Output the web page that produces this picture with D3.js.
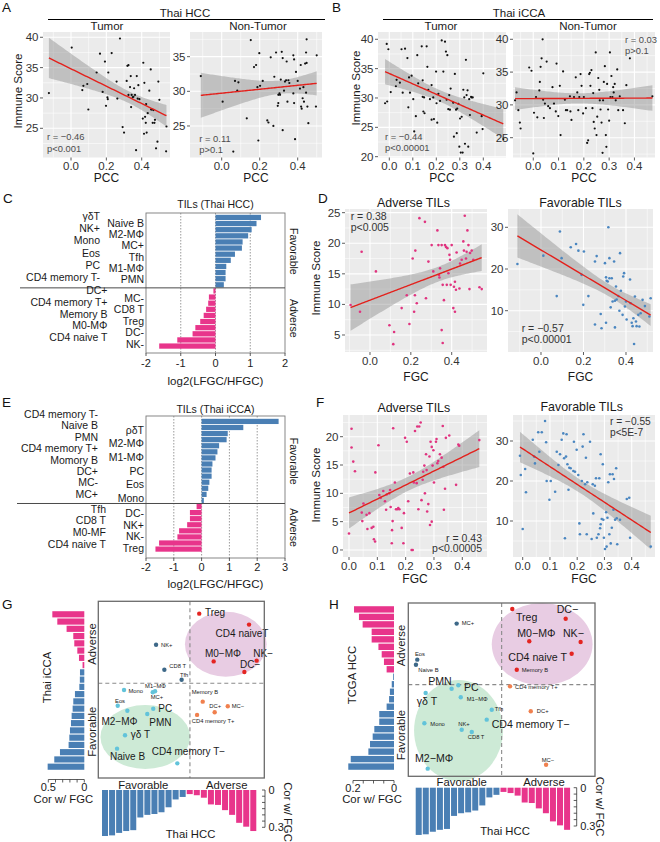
<!DOCTYPE html>
<html>
<head>
<meta charset="utf-8">
<script src="https://cdn.jsdelivr.net/npm/d3@7"></script>
<style>html,body{margin:0;padding:0;background:#fff;}</style>
</head>
<body>
<script>
// ======================= DATA =======================
// Panel A: Thai HCC, PCC vs Immune Score  [PCC, score]
const aTumor = [[-0.125,30.8],[0.004,38.3],[0.064,31.3],[0.07,32.0],[0.092,32.3],[0.098,28.1],[0.145,34.2],[0.164,37.3],[0.179,31.0],[0.192,36.0],[0.198,28.7],[0.206,30.1],[0.208,29.8],[0.211,34.2],[0.23,37.4],[0.258,32.7],[0.262,29.9],[0.277,39.8],[0.292,25.2],[0.3,24.3],[0.315,32.8],[0.319,35.3],[0.325,35.4],[0.325,30.5],[0.334,31.8],[0.338,33.6],[0.34,28.5],[0.343,30.5],[0.349,30.1],[0.353,30.2],[0.357,31.6],[0.362,30.5],[0.368,21.4],[0.372,33.6],[0.377,29.9],[0.381,32.1],[0.387,29.8],[0.409,35.8],[0.413,24.1],[0.415,32.5],[0.419,26.9],[0.423,25.9],[0.425,29.0],[0.428,24.3],[0.443,31.2],[0.451,34.7],[0.453,28.1],[0.457,28.1],[0.462,25.9],[0.466,28.0],[0.472,25.9],[0.475,26.4],[0.481,21.7],[0.489,22.8],[0.494,32.7],[0.5,29.7],[0.54,25.3],[0.538,21.2],[0.434,27.5],[0.406,26.6]];
const aNonTumor = [[-0.11,32.2],[0.005,28.5],[0.061,21.3],[0.07,31.5],[0.082,30.1],[0.088,31.3],[0.132,26.1],[0.153,37.4],[0.17,33.5],[0.181,33.8],[0.188,30.6],[0.193,22.9],[0.198,35.5],[0.202,30.8],[0.216,31.5],[0.24,25.8],[0.246,25.5],[0.258,34.9],[0.272,25.0],[0.277,32.1],[0.286,35.6],[0.295,27.9],[0.298,28.3],[0.298,29.5],[0.304,29.7],[0.307,29.5],[0.311,31.7],[0.316,35.7],[0.321,34.8],[0.321,24.4],[0.328,30.1],[0.333,31.4],[0.339,31.6],[0.342,34.3],[0.346,28.5],[0.351,31.6],[0.356,31.2],[0.377,35.2],[0.381,34.6],[0.381,28.3],[0.386,23.1],[0.391,32.8],[0.4,31.5],[0.412,30.4],[0.416,33.8],[0.418,27.8],[0.421,27.5],[0.426,29.0],[0.43,30.6],[0.433,28.5],[0.439,34.0],[0.444,35.6],[0.447,37.5],[0.447,34.1],[0.451,27.8],[0.456,25.4],[0.496,27.8],[0.5,35.2],[0.444,29.8],[0.377,29.7]];
// Panel B: Thai iCCA
const bTumor = [[-0.018,29.1],[-0.011,39.2],[-0.004,38.3],[-0.009,29.4],[0.006,31.0],[0.028,32.0],[0.031,33.1],[0.045,32.6],[0.052,38.3],[0.057,30.9],[0.067,38.4],[0.077,36.8],[0.081,28.4],[0.084,33.5],[0.088,30.9],[0.095,33.8],[0.102,29.8],[0.106,24.3],[0.113,26.9],[0.119,37.3],[0.123,32.5],[0.138,38.8],[0.142,33.0],[0.142,30.2],[0.145,27.7],[0.148,30.1],[0.15,27.4],[0.159,38.8],[0.162,35.3],[0.166,31.4],[0.173,29.8],[0.18,32.2],[0.18,26.3],[0.187,30.1],[0.19,26.4],[0.199,34.5],[0.201,29.1],[0.204,25.8],[0.209,30.7],[0.216,29.5],[0.223,39.8],[0.23,34.5],[0.237,39.6],[0.241,37.9],[0.244,29.7],[0.247,37.3],[0.251,28.1],[0.255,30.5],[0.258,28.0],[0.261,31.6],[0.272,29.2],[0.275,23.4],[0.279,34.1],[0.284,28.0],[0.287,24.0],[0.289,28.2],[0.294,29.0],[0.298,21.7],[0.301,26.5],[0.304,20.7],[0.308,26.8],[0.312,20.7],[0.315,31.4],[0.319,30.1],[0.322,22.2],[0.326,36.5],[0.329,30.5],[0.333,31.3],[0.336,21.7],[0.34,29.8],[0.343,27.1],[0.348,30.2],[0.35,30.1],[0.355,30.1],[0.372,24.1],[0.393,26.9],[0.397,24.7],[0.4,34.2],[0.485,23.0]];
const bNonTumor = [[-0.072,30.7],[-0.066,31.9],[-0.059,29.2],[-0.053,27.3],[-0.05,26.4],[-0.016,35.7],[-0.007,35.2],[0,22.6],[0.003,28.8],[0.011,31.2],[0.016,28.1],[0.024,32.2],[0.026,33.5],[0.029,35.8],[0.033,37.1],[0.037,40.0],[0.039,30.8],[0.042,28.0],[0.046,30.2],[0.053,36.6],[0.059,29.8],[0.066,29.5],[0.076,32.7],[0.082,30.2],[0.089,29.0],[0.092,36.3],[0.099,28.3],[0.105,32.9],[0.108,25.4],[0.118,35.1],[0.125,30.8],[0.129,29.2],[0.134,29.2],[0.145,31.3],[0.147,29.0],[0.151,27.7],[0.161,31.2],[0.168,34.2],[0.174,31.9],[0.178,29.2],[0.182,31.2],[0.187,34.7],[0.191,32.9],[0.197,28.7],[0.2,31.2],[0.208,29.5],[0.213,24.2],[0.217,24.6],[0.221,34.7],[0.224,34.9],[0.226,32.9],[0.23,35.3],[0.234,29.5],[0.237,31.8],[0.239,27.4],[0.243,26.4],[0.247,38.0],[0.25,25.4],[0.253,28.2],[0.257,34.1],[0.261,32.3],[0.263,30.7],[0.266,29.3],[0.27,27.3],[0.274,22.7],[0.276,30.7],[0.279,33.5],[0.283,35.9],[0.287,25.4],[0.289,23.6],[0.292,33.2],[0.296,29.3],[0.3,27.6],[0.303,38.0],[0.305,31.2],[0.309,34.4],[0.313,31.2],[0.316,32.7],[0.318,31.9],[0.322,33.2],[0.326,30.7],[0.332,35.4],[0.336,29.2],[0.342,31.3],[0.355,29.2],[0.362,27.2],[0.368,33.0],[0.382,37.1],[0.471,31.3]];
const aStats = [["r = \u22120.46","p<0.001"],["r = 0.11","p>0.1"]];
const bStats = [["r = \u22120.44","p<0.00001"],["r = 0.03","p>0.1"]];

// Panel C: TILs (Thai HCC) log2(LFGC/HFGC)
const cFavValues = [1.31,1.18,1.04,0.94,0.78,0.76,0.56,0.44,0.31,0.29,0.29,0.24];
const cAdvValues = [-0.06,-0.19,-0.21,-0.27,-0.34,-0.44,-0.58,-0.66,-1.1,-1.62];
const cFavLeft = ["\u03b3\u03b4T","NK+","Mono","Eos","PC","CD4 memory T-"];
const cFavRight = ["Naive B","M2-M\u03a6","MC+","Tfh","M1-M\u03a6","PMN"];
const cAdvLeft = ["DC+","CD4 memory T+","Memory B","M0-M\u03a6","CD4 naive T"];
const cAdvRight = ["MC-","CD8 T","Treg","DC-","NK-"];
const cTicks = [-2,-1,0,1,2];
// Panel E: TILs (Thai iCCA)
const eFavValues = [2.77,1.5,0.94,0.9,0.63,0.57,0.5,0.39,0.36,0.36,0.28,0.24,0.18,0.08];
const eAdvValues = [-0.18,-0.42,-0.42,-0.52,-0.81,-0.87,-1.53,-1.66];
const eFavLeft = ["CD4 memory T-","Naive B","PMN","CD4 memory T+","Momory B","DC+","MC-","MC+"];
const eFavRight = ["\u03c1\u03b4T","M2-M\u03a6","M1-M\u03a6","PC","Eos","Mono"];
const eAdvLeft = ["Tfh","CD8 T","M0-MF","CD4 naive T"];
const eAdvRight = ["DC-","NK+","NK-","Treg"];
const eTicks = [-2,-1,0,1,2,3];

// Panel D: Thai HCC, FGC vs Immune Score (adverse / favorable TILs)
const dAdverse = [[-0.095,9.9],[-0.049,8.8],[-0.041,18.6],[0.029,15.4],[0.095,6.6],[0.114,3.5],[0.118,5.5],[0.155,9.4],[0.18,11.5],[0.193,6.8],[0.209,17.5],[0.216,8.8],[0.22,11.5],[0.222,18.8],[0.229,10.2],[0.242,24.1],[0.269,23.5],[0.274,11.0],[0.286,17.0],[0.302,19.7],[0.31,15.4],[0.33,22.1],[0.335,19.7],[0.338,14.8],[0.34,14.4],[0.343,15.9],[0.351,19.7],[0.351,5.8],[0.356,13.2],[0.356,3.7],[0.362,10.7],[0.367,19.7],[0.372,19.4],[0.376,13.2],[0.379,19.2],[0.384,15.1],[0.389,18.1],[0.392,17.3],[0.395,13.2],[0.4,19.7],[0.408,9.4],[0.411,12.9],[0.416,13.7],[0.416,8.8],[0.421,12.4],[0.424,18.5],[0.438,12.6],[0.441,16.7],[0.449,17.3],[0.457,20.3],[0.46,18.8],[0.464,24.5],[0.47,17.5],[0.473,18.6],[0.477,22.1],[0.482,19.7],[0.487,12.5],[0.49,18.4],[0.498,18.8],[0.506,17.3],[0.536,12.8],[0.547,12.5]];
const dFavorable = [[-0.111,21.2],[0.011,23.2],[0.074,13.5],[0.089,29.0],[0.097,22.6],[0.14,25.2],[0.165,26.0],[0.176,24.4],[0.191,18.6],[0.199,11.4],[0.202,24.2],[0.223,13.5],[0.254,21.8],[0.254,6.7],[0.262,23.1],[0.281,9.2],[0.285,5.8],[0.301,21.4],[0.306,18.0],[0.306,7.1],[0.309,17.2],[0.314,17.0],[0.317,30.0],[0.322,22.6],[0.322,17.8],[0.328,10.8],[0.333,17.8],[0.337,12.2],[0.344,21.8],[0.348,12.4],[0.348,6.0],[0.353,15.8],[0.356,12.7],[0.364,13.5],[0.369,10.0],[0.372,23.8],[0.376,14.8],[0.384,9.0],[0.387,18.2],[0.391,19.0],[0.395,11.0],[0.4,12.2],[0.403,7.9],[0.419,17.5],[0.422,11.8],[0.427,7.1],[0.431,6.3],[0.435,8.2],[0.438,2.0],[0.442,13.4],[0.447,7.4],[0.45,6.3],[0.458,9.0],[0.463,6.2],[0.469,9.4],[0.478,12.6],[0.489,11.1],[0.51,8.6],[0.516,13.0]];
// Panel F: Thai iCCA
const fAdverse = [[0,2.9],[0.009,21.4],[0.009,18.1],[0.015,15.6],[0.021,13.9],[0.045,6.6],[0.047,5.1],[0.051,8.2],[0.062,6.2],[0.065,3.7],[0.072,6.5],[0.08,3.9],[0.086,4.1],[0.088,1.9],[0.092,1.5],[0.093,13.7],[0.104,18.5],[0.107,9.7],[0.112,9.2],[0.121,10.4],[0.127,8.6],[0.131,7.1],[0.133,9.8],[0.142,10.0],[0.145,10.6],[0.147,7.6],[0.151,1.2],[0.152,3.5],[0.154,5.1],[0.156,21.5],[0.162,11.9],[0.166,7.2],[0.171,7.2],[0.174,7.4],[0.178,7.2],[0.186,3.9],[0.192,1.2],[0.194,6.5],[0.198,19.8],[0.204,19.1],[0.209,8.6],[0.215,13.5],[0.221,0.0],[0.225,0.0],[0.227,13.7],[0.229,11.9],[0.233,21.0],[0.239,11.8],[0.241,21.8],[0.245,7.2],[0.248,21.8],[0.253,22.5],[0.256,8.8],[0.26,12.4],[0.262,13.8],[0.266,14.9],[0.268,10.0],[0.272,16.9],[0.274,14.1],[0.276,6.8],[0.28,8.1],[0.284,16.5],[0.286,4.4],[0.288,19.1],[0.292,5.0],[0.292,18.2],[0.295,14.9],[0.298,17.6],[0.3,11.9],[0.307,19.1],[0.309,19.6],[0.312,15.3],[0.315,15.7],[0.321,16.9],[0.327,16.3],[0.331,21.9],[0.333,14.7],[0.335,7.1],[0.339,10.8],[0.342,19.8],[0.354,20.2],[0.378,11.5],[0.386,18.6],[0.389,18.4],[0.46,19.4]];
const fFavorable = [[-0.01,26.3],[-0.007,21.5],[0,8.0],[0.009,23.0],[0.012,17.2],[0.037,30.3],[0.042,26.1],[0.045,24.4],[0.057,32.2],[0.061,27.3],[0.07,32.2],[0.082,35.0],[0.086,29.7],[0.088,20.0],[0.098,15.3],[0.103,20.0],[0.119,17.3],[0.125,27.3],[0.131,24.0],[0.137,26.7],[0.143,30.3],[0.149,31.9],[0.152,25.7],[0.155,5.7],[0.159,26.1],[0.161,31.7],[0.164,24.2],[0.168,17.8],[0.171,23.3],[0.176,23.2],[0.186,22.5],[0.188,29.8],[0.192,22.3],[0.198,27.8],[0.204,21.5],[0.208,9.4],[0.21,6.7],[0.217,20.0],[0.22,28.6],[0.223,31.7],[0.229,19.2],[0.232,25.8],[0.235,6.7],[0.237,19.7],[0.247,29.8],[0.253,5.5],[0.257,19.2],[0.259,11.9],[0.265,18.8],[0.269,20.7],[0.272,5.8],[0.278,6.7],[0.281,20.7],[0.284,8.2],[0.286,9.2],[0.286,26.7],[0.29,10.5],[0.294,24.2],[0.296,10.3],[0.298,5.8],[0.302,3.0],[0.306,12.2],[0.308,3.6],[0.311,10.8],[0.314,19.7],[0.318,6.7],[0.32,21.7],[0.323,4.4],[0.327,8.3],[0.33,21.7],[0.333,12.8],[0.335,20.5],[0.339,10.3],[0.343,23.2],[0.345,10.7],[0.347,4.2],[0.357,10.3],[0.382,15.5],[0.391,15.8],[0.394,5.8],[0.47,3.6]];
const dStats = [["r = 0.38","p<0.005"],["r = \u22120.57","p<0.00001"]];
const fStats = [["r = 0.43","p<0.00005"],["r = \u22120.55","p<5E-7"]];

// Panels G/H: correlation with FGC (bar values) and quadrant positions (0-100 score units)
const thaiHCCFavCor = [0.37,0.365,0.345,0.33,0.323,0.221,0.2,0.193,0.179,0.139,0.076,0.056];
const thaiHCCAdvCor = [0.033,0.042,0.062,0.116,0.12,0.162,0.2,0.264,0.295,0.33];
const thaiICCAAdvCor = [0.444,0.375,0.246,0.153,0.139,0.097,0.074,0.024];
const thaiICCAFavCor = [0.06,0.062,0.069,0.13,0.153,0.162,0.176,0.185,0.199,0.208,0.218,0.338,0.417,0.509];
const tcgaAdvCor = [0.195,0.171,0.153,0.109,0.109,0.076,0.06,0.049,0.036];
const tcgaFavCor = [0.004,0.011,0.02,0.024,0.036,0.072,0.072,0.096,0.104,0.117,0.125,0.211,0.223];

const gCells = ["Treg","CD4 naiveT","M0\u2212M\u03a6","NK\u2212","DC\u2212","NK+","CD8 T","Tfh","M1\u2212M\u03a6","MC+","Mono","Eos","M2\u2212M\u03a6","PC","PMN","\u03b3\u03b4 T","Naive B","CD4 memory T\u2212","Memory B","DC+","MC\u2212","CD4 memory T+"];
const gThaiHCC  = [60.8,90.8,69.5,95.4,88.0,34.8,39.8,50.2,34.2,32.8,15.5,11.7,17.5,33.1,29.5,16.1,11.3,47.6,62.9,70.1,78.0,59.5];
const gThaiICCA = [93.0,86.8,66.0,66.4,60.0,75.4,61.3,55.6,49.1,48.5,49.8,40.9,38.1,39.2,36.2,24.2,16.6,8.3,43.2,37.2,40.6,35.7];
const gThreshold = [55.2,53.6];
const gEllipses = [{kind:"adverse",cx:76.8,cy:75.7,rx:24.6,ry:18.4},{kind:"favorable",cx:28.3,cy:23.2,rx:27.0,ry:18.1}];

const hCells = ["Treg","DC\u2212","M0\u2212M\u03a6","NK\u2212","CD4 naive T","Memory B","MC+","Eos","Naive B","CD4 memory T+","DC+","MC\u2212","PMN","PC","\u03b3\u03b4 T","M1\u2212M\u03a6","Tfh","CD4 memory T\u2212","Mono","NK+","CD8 T","M2\u2212M\u03a6"];
const hThaiHCC = [55.7,84.3,64.8,92.3,87.5,58.1,25.9,4.8,4.1,54.5,65.6,73.8,23.2,26.8,9.3,28.1,44.7,42.0,8.6,28.6,34.0,10.4];
const hTCGA    = [96.5,90.9,77.9,77.5,70.7,61.5,88.1,67.3,64.4,51.9,37.5,6.7,50.5,52.5,48.1,45.6,38.4,32.7,30.6,26.9,25.6,4.4];
const hThreshold = [50.0,52.9];
const hEllipses = [{kind:"adverse",cx:71.7,cy:76.2,rx:27.0,ry:23.8},{kind:"favorable",cx:26.9,cy:26.4,rx:23.8,ry:29.1}];

// ======================= STYLE / LAYOUT =======================
const FONT = '"Liberation Sans", Arial, Helvetica, sans-serif';
const BLUE = "#4a7fb4", PINK = "#e8358b";
const RED = "#e42522", DBLUE = "#3d6888", CYAN = "#62c3da", ORANGE = "#f0804e";
const ELL_PINK = "#e8cce3", ELL_GREEN = "#cdead6";

const svg = d3.select("body").append("svg").attr("width",660).attr("height",842)
  .style("display","block").attr("font-family",FONT);
const defs = svg.append("defs");

function text(x,y,s,o={}){
  const t = svg.append("text").attr("x",x).attr("y",y).text(s)
    .attr("font-size",o.size||11.5).attr("fill",o.fill||"#1a1a1a")
    .attr("text-anchor",o.anchor||"start");
  if (o.dy) t.attr("dy",o.dy);
  if (o.rotate) t.attr("transform",`rotate(${o.rotate},${x},${y})`);
  return t;
}
function line(x1,y1,x2,y2,o={}){
  const l = svg.append("line").attr("x1",x1).attr("y1",y1).attr("x2",x2).attr("y2",y2)
    .attr("stroke",o.stroke||"#000").attr("stroke-width",o.width||1);
  if (o.dash) l.attr("stroke-dasharray",o.dash);
  return l;
}

let clipN = 0;
function scatter(p){
  const [x0,y0,x1,y1] = p.box;
  const x = d3.scaleLinear().domain(p.xDom).range([x0,x1]);
  const y = d3.scaleLinear().domain(p.yDom).range([y1,y0]);
  svg.append("rect").attr("x",x0).attr("y",y0).attr("width",x1-x0).attr("height",y1-y0).attr("fill","#EBEBEB");
  const minorOf = (ticks,dom)=>{const st=ticks[1]-ticks[0];const out=[];for(let i=-4;i<ticks.length+4;i++){const v=ticks[0]+st*(i+0.5);if(v>dom[0]&&v<dom[1])out.push(v);}return out;};
  minorOf(p.xTicks,p.xDom).forEach(v=>line(x(v),y0,x(v),y1,{stroke:"#fff",width:0.55}));
  minorOf(p.yTicks,p.yDom).forEach(v=>line(x0,y(v),x1,y(v),{stroke:"#fff",width:0.55}));
  p.xTicks.forEach(v=>line(x(v),y0,x(v),y1,{stroke:"#fff",width:1.1}));
  p.yTicks.forEach(v=>line(x0,y(v),x1,y(v),{stroke:"#fff",width:1.1}));
  // linear fit + 95% CI
  const pts = p.data, n = pts.length;
  const mx = d3.mean(pts,d=>d[0]), my = d3.mean(pts,d=>d[1]);
  const sxx = d3.sum(pts,d=>(d[0]-mx)**2), sxy = d3.sum(pts,d=>(d[0]-mx)*(d[1]-my));
  const b = sxy/sxx, a = my-b*mx;
  const s = Math.sqrt(d3.sum(pts,d=>(d[1]-a-b*d[0])**2)/(n-2));
  const tq = 1.96+2.4/(n-2);
  const [xmin,xmax] = d3.extent(pts,d=>d[0]);
  const grid = d3.range(81).map(i=>xmin+(xmax-xmin)*i/80).map(v=>{const f=a+b*v,se=s*Math.sqrt(1/n+(v-mx)**2/sxx);return {v,f,lo:f-tq*se,hi:f+tq*se};});
  const id = "clip"+(clipN++);
  defs.append("clipPath").attr("id",id).append("rect").attr("x",x0).attr("y",y0).attr("width",x1-x0).attr("height",y1-y0);
  const gc = svg.append("g").attr("clip-path",`url(#${id})`);
  gc.append("path").datum(grid).attr("d",d3.area().x(d=>x(d.v)).y0(d=>y(d.lo)).y1(d=>y(d.hi))).attr("fill","#8c8c8c").attr("fill-opacity",0.45);
  gc.selectAll("circle").data(pts).join("circle").attr("cx",d=>x(d[0])).attr("cy",d=>y(d[1])).attr("r",p.r).attr("fill",p.color);
  gc.append("path").datum(grid).attr("d",d3.line().x(d=>x(d.v)).y(d=>y(d.f))).attr("stroke","#e3211c").attr("stroke-width",1.4).attr("fill","none");
  // axes
  p.yTicks.forEach(v=>{line(x0-3,y(v),x0,y(v),{stroke:"#333",width:0.8});text(x0-4.5,y(v),p.yFmt(v),{anchor:"end",dy:"0.35em",size:11.5,fill:"#333"});});
  p.xTicks.forEach(v=>{line(x(v),y1,x(v),y1+3,{stroke:"#333",width:0.8});text(x(v),y1+12.5,p.xFmt(v),{anchor:"middle",size:11.5,fill:"#333"});});
  text((x0+x1)/2,y1+p.xTitleGap,p.xTitle,{anchor:"middle",size:12});
  p.stats.forEach((st,i)=>text(p.statX,p.statY+i*p.statGap,st,{anchor:p.statAnchor||"start",size:p.statSize,fill:p.statFill}));
  if (p.title) text(p.titleX,p.titleY,p.title,{anchor:"middle",size:p.titleSize});
}

function tilPanel(p){
  const [x0,y0,x1,y1] = p.box;
  const x = d3.scaleLinear().domain(d3.extent(p.ticks)).range([x0,x1]);
  const vals = p.fav.concat(p.adv);
  const yb = d3.scaleBand().domain(d3.range(vals.length)).range(p.barRange).paddingInner(0.14).paddingOuter(0.05);
  p.ticks.slice(1,-1).forEach(v=>line(x(v),y0,x(v),y1,{stroke:"#707070",width:0.7,dash:"1.5,1.5"}));
  svg.append("g").selectAll("rect").data(vals).join("rect")
    .attr("x",d=>Math.min(x(0),x(d))).attr("width",d=>Math.abs(x(d)-x(0)))
    .attr("y",(d,i)=>yb(i)).attr("height",yb.bandwidth())
    .attr("fill",(d,i)=>i<p.fav.length?BLUE:PINK);
  svg.append("rect").attr("x",x0).attr("y",y0).attr("width",x1-x0).attr("height",y1-y0)
    .attr("fill","none").attr("stroke","#7a7a7a").attr("stroke-width",0.9);
  const sepY = (yb(p.fav.length-1)+yb.bandwidth()+yb(p.fav.length))/2;
  line(p.sepX0,sepY,x1,sepY,{stroke:"#4a4a4a",width:1});
  p.ticks.forEach(v=>{line(x(v),y1,x(v),y1+3,{stroke:"#333",width:0.8});text(x(v),y1+p.tickGap,String(v),{anchor:"middle",size:11,fill:"#222"});});
  text((x0+x1)/2,y1+p.titleGap,"log2(LFGC/HFGC)",{anchor:"middle",size:11.5});
  text((x0+x1)/2,p.titleY,p.title,{anchor:"middle",size:10.5});
  const favMid = (yb(0)+sepY)/2, advMid = (sepY+yb(vals.length-1)+yb.bandwidth())/2;
  text(x1+8.5,favMid,"Favorable",{anchor:"middle",rotate:90,size:10.5,dy:"0.35em"});
  text(x1+8.5,advMid,"Adverse",{anchor:"middle",rotate:90,size:10.5,dy:"0.35em"});
  p.labelCols.forEach(c=>{
    const sp = d3.scalePoint().domain(c.names).range(c.range);
    c.names.forEach(nm=>text(c.x,sp(nm),nm,{anchor:"end",size:10.5,dy:"0.35em"}));
  });
}

function quadPanel(p){
  const [x0,y0,x1,y1] = p.box;
  const x = d3.scaleLinear().domain([0,100]).range([x0,x1]);
  const y = d3.scaleLinear().domain([0,100]).range([y1,y0]);
  p.ellipses.forEach(e=>svg.append("ellipse").attr("cx",x(e.cx)).attr("cy",y(e.cy))
    .attr("rx",x(e.rx)-x(0)).attr("ry",y(0)-y(e.ry)).attr("fill",e.kind==="adverse"?ELL_PINK:ELL_GREEN));
  line(x(p.thr[0]),y0,x(p.thr[0]),y1,{stroke:"#8a8a8a",width:1.1,dash:"4,3"});
  line(x0,y(p.thr[1]),x1,y(p.thr[1]),{stroke:"#8a8a8a",width:1.1,dash:"4,3"});
  const color = (a,b)=> a>p.thr[0] ? (b>p.thr[1]?RED:ORANGE) : (b>p.thr[1]?DBLUE:CYAN);
  p.cells.forEach((c,i)=>{
    const cx = x(p.xs[i]), cy = y(p.ys[i]);
    svg.append("circle").attr("cx",cx).attr("cy",cy).attr("r",2.2).attr("fill",color(p.xs[i],p.ys[i]));
    const L = p.layout[c];
    text(cx+L[0],cy+L[1],c,{anchor:L[2],size:L[3]==="big"?p.bigSize:5.8,fill:"#1a1a1a"});
  });
  svg.append("rect").attr("x",x0).attr("y",y0).attr("width",x1-x0).attr("height",y1-y0)
    .attr("fill","none").attr("stroke","#6a6a6a").attr("stroke-width",1.3);
  // left bars
  const lv = p.leftAdv.concat(p.leftFav);
  const lb = d3.scaleBand().domain(d3.range(lv.length)).range(p.leftRange).paddingInner(0.15).paddingOuter(0.03);
  const lx = d3.scaleLinear().domain([0,p.leftMax]).range([p.leftZero,p.leftMaxX]);
  svg.append("g").selectAll("rect").data(lv).join("rect")
    .attr("x",d=>lx(d)).attr("width",d=>lx(0)-lx(d)).attr("y",(d,i)=>lb(i)).attr("height",lb.bandwidth())
    .attr("fill",(d,i)=>i<p.leftAdv.length?PINK:BLUE);
  line(lx(p.leftMax),p.leftAxisY,lx(0),p.leftAxisY,{stroke:"#333",width:0.8});
  p.leftTicks.forEach(v=>line(lx(v),p.leftAxisY,lx(v),p.leftAxisY+3,{stroke:"#333",width:0.8}));
  [0,p.leftMax].forEach(v=>text(lx(v),p.leftAxisY+11.5,String(v),{anchor:"middle",size:11}));
  text(p.leftTitle[0],p.leftTitle[1],"Cor w/ FGC",{anchor:"middle",size:11.3});
  text(p.leftName[0],p.leftName[1],p.leftNameText,{anchor:"middle",rotate:-90,size:11.3,dy:"0.35em"});
  text(p.sideX,p.sideAdvY,"Adverse",{anchor:"middle",rotate:-90,size:11.3,dy:"0.35em"});
  text(p.sideX,p.sideFavY,"Favorable",{anchor:"middle",rotate:-90,size:11.3,dy:"0.35em"});
  // bottom bars
  const bv = p.botFav.concat(p.botAdv);
  const bb = d3.scaleBand().domain(d3.range(bv.length)).range(p.botRange).paddingInner(0.15).paddingOuter(0.03);
  const by = d3.scaleLinear().domain([0,0.3]).range([p.botTop,p.botTop+p.bot03]);
  svg.append("g").selectAll("rect").data(bv).join("rect")
    .attr("x",(d,i)=>bb(i)).attr("width",bb.bandwidth()).attr("y",by(0)).attr("height",d=>by(d)-by(0))
    .attr("fill",(d,i)=>i<p.botFav.length?BLUE:PINK);
  line(p.botAxisX,by(0),p.botAxisX,by(0.3),{stroke:"#333",width:0.8});
  [0,0.05,0.1,0.15,0.2,0.25,0.3].forEach(v=>line(p.botAxisX-3,by(v),p.botAxisX,by(v),{stroke:"#333",width:0.8}));
  [0,0.3].forEach(v=>text(p.botAxisX+3.5,by(v),String(v),{size:11,dy:"0.35em"}));
  text(p.botAxisX+23,p.botRotY,"Cor w/ FGC",{anchor:"middle",rotate:90,size:11.3,dy:"0.35em"});
  text(p.favX,p.catY,"Favorable",{anchor:"middle",size:11.3});
  text(p.advX,p.catY,"Adverse",{anchor:"middle",size:11.3});
  text(p.botName[0],p.botName[1],"Thai HCC",{anchor:"middle",size:11.3});
}

// ======================= RENDER =======================
[["A",2,12],["B",332,12],["C",3,203],["D",318,203],["E",2,407],["F",316,407],["G",2,609],["H",329,609]]
  .forEach(d=>text(d[1],d[2],d[0],{size:13.5,fill:"#111"}));

const f1 = d3.format(".1f"), fi = d3.format("d");
// A
text(185,16.5,"Thai HCC",{anchor:"middle",size:11.5}); line(48,19.5,325,19.5,{width:1});
text(107,30,"Tumor",{anchor:"middle",size:11.5}); text(258,30,"Non-Tumor",{anchor:"middle",size:11.5});
text(18,91,"Immune Score",{anchor:"middle",rotate:-90,size:11.5,dy:"0.35em"});
scatter({box:[43,32,170,157.5],xDom:[-0.1584,0.56],yDom:[20.19,40.87],xTicks:[0,0.2,0.4],yTicks:[25,30,35,40],
  data:aTumor,r:1.1,color:"#111",xFmt:f1,yFmt:fi,xTitle:"PCC",xTitleGap:24,
  stats:aStats[0],statX:47,statY:140,statGap:11.7,statSize:9.4,statFill:"#4d4d4d"});
scatter({box:[190,32,322,157.5],xDom:[-0.1668,0.5279],yDom:[20.45,38.56],xTicks:[0,0.2,0.4],yTicks:[25,30,35],
  data:aNonTumor,r:1.1,color:"#111",xFmt:f1,yFmt:fi,xTitle:"PCC",xTitleGap:24,
  stats:aStats[1],statX:199.3,statY:141.7,statGap:11.6,statSize:9.4,statFill:"#4d4d4d"});
// B
text(519,16.5,"Thai iCCA",{anchor:"middle",size:11.5}); line(383,19.5,653,19.5,{width:1});
text(441,30,"Tumor",{anchor:"middle",size:11.5}); text(588,30,"Non-Tumor",{anchor:"middle",size:11.5});
text(356,88,"Immune Score",{anchor:"middle",rotate:-90,size:11.5,dy:"0.35em"});
scatter({box:[378,32,506,157.5],xDom:[-0.0481,0.4966],yDom:[19.86,41.24],xTicks:[0,0.1,0.2,0.3,0.4],yTicks:[20,25,30,35,40],
  data:bTumor,r:1.1,color:"#111",xFmt:f1,yFmt:fi,xTitle:"PCC",xTitleGap:24,
  stats:bStats[0],statX:385,statY:140,statGap:10.7,statSize:9.4,statFill:"#4d4d4d"});
scatter({box:[513,32,655,157.5],xDom:[-0.0801,0.4813],yDom:[21.98,41.11],xTicks:[0,0.1,0.2,0.3,0.4],yTicks:[25,30,35,40],
  data:bNonTumor,r:1.1,color:"#111",xFmt:f1,yFmt:fi,xTitle:"PCC",xTitleGap:24,
  stats:bStats[1],statX:625,statY:43.3,statGap:10.5,statSize:9.4,statFill:"#4d4d4d"});

// C
tilPanel({box:[146,213,285,353],ticks:cTicks,fav:cFavValues,adv:cAdvValues,barRange:[214.5,349],
  sepX0:20,tickGap:14,titleGap:32,titleY:208,title:"TILs (Thai HCC)",
  labelCols:[{names:cFavLeft,x:100,range:[216.3,277.3]},{names:cFavRight,x:144,range:[223.3,279.3]},
             {names:cAdvLeft,x:107.5,range:[290,337.7]},{names:cAdvRight,x:144,range:[298.3,344]}]});
// E
tilPanel({box:[146,416,285,558],ticks:eTicks,fav:eFavValues,adv:eAdvValues,barRange:[418.5,552],
  sepX0:17,tickGap:13,titleGap:30,titleY:412.5,title:"TILs (Thai iCCA)",
  labelCols:[{names:eFavLeft,x:98,range:[414.3,494]},{names:eFavRight,x:144,range:[430,498.3]},
             {names:eAdvLeft,x:106,range:[509,544]},{names:eAdvRight,x:144,range:[513.3,548.3]}]});

// D
text(316,278,"Immune Score",{anchor:"middle",rotate:-90,size:11.5,dy:"0.35em"});
scatter({box:[345,209,487,352],xDom:[-0.1224,0.5729],yDom:[2.22,25.6],xTicks:[0,0.2,0.4],yTicks:[5,10,15,20,25],
  data:dAdverse,r:1.3,color:"#e0337f",xFmt:f1,yFmt:fi,xTitle:"FGC",xTitleGap:28.5,
  stats:dStats[0],statX:350.7,statY:220,statGap:10.7,statSize:10.5,statFill:"#333",
  title:"Adverse TILs",titleX:413.5,titleY:206.5,titleSize:12.4});
scatter({box:[508,209,653,352],xDom:[-0.1553,0.5271],yDom:[0.096,34.39],xTicks:[0,0.2,0.4],yTicks:[10,20,30],
  data:dFavorable,r:1.3,color:"#4a86c0",xFmt:f1,yFmt:fi,xTitle:"FGC",xTitleGap:28.5,
  stats:dStats[1],statX:521.7,statY:331.7,statGap:11,statSize:10.5,statFill:"#333",
  title:"Favorable TILs",titleX:580.5,titleY:206.5,titleSize:12.4});
// F
text(316,485,"Immune Score",{anchor:"middle",rotate:-90,size:11.5,dy:"0.35em"});
scatter({box:[343,415,487,557],xDom:[-0.0212,0.4872],yDom:[-1.24,23.83],xTicks:[0,0.1,0.2,0.3,0.4],yTicks:[0,5,10,15,20],
  data:fAdverse,r:1.3,color:"#e0337f",xFmt:f1,yFmt:fi,xTitle:"FGC",xTitleGap:26,
  stats:fStats[0],statX:482,statY:541.7,statGap:10.6,statSize:10.5,statFill:"#333",statAnchor:"end",
  title:"Adverse TILs",titleX:413.8,titleY:411.5,titleSize:12.4});
scatter({box:[513,415,655,557],xDom:[-0.0356,0.4855],yDom:[1.0,36.5],xTicks:[0,0.1,0.2,0.3,0.4],yTicks:[10,20,30],
  data:fFavorable,r:1.3,color:"#4a86c0",xFmt:f1,yFmt:fi,xTitle:"FGC",xTitleGap:26,
  stats:fStats[1],statX:610,statY:424.8,statGap:11,statSize:10.2,statFill:"#333",
  title:"Favorable TILs",titleX:581.7,titleY:410.5,titleSize:12.4});

// G / H label nudges (layout only): [dx, dy, anchor, size class]
const gLabelLayout = {
  "Treg":[5.7,2.6,"start","big"],"CD4 naiveT":[-7,12.6,"middle","big"],"M0\u2212M\u03a6":[9.3,-4,"middle","big"],
  "NK\u2212":[-3.4,-3.4,"start","big"],"DC\u2212":[-4.3,-4,"start","big"],"NK+":[5,2,"start","small"],
  "CD8 T":[5,-2,"start","small"],"Tfh":[-1.7,-3,"start","small"],"M1\u2212M\u03a6":[-10,-3.6,"start","small"],
  "MC+":[-2,7,"start","small"],"Mono":[4.5,2.7,"start","small"],"Eos":[-2.7,-3,"start","small"],
  "M2\u2212M\u03a6":[-7.8,14.6,"middle","big"],"PC":[5,3.3,"start","big"],"PMN":[2,12.3,"start","big"],
  "\u03b3\u03b4 T":[5.7,2.7,"start","big"],"Naive B":[-7,11.6,"start","big"],"CD4 memory T\u2212":[-25.6,-8.6,"start","big"],
  "Memory B":[-11,-7.4,"start","small"],"DC+":[-5.4,-4,"start","small"],"MC\u2212":[4,2,"start","small"],
  "CD4 memory T+":[-5.3,8.3,"start","small"]};
const hLabelLayout = {
  "Treg":[3.7,11.7,"start","big"],"DC\u2212":[-9,-5.7,"start","big"],"M0\u2212M\u03a6":[-12,-4.3,"start","big"],
  "NK\u2212":[-17.7,-5,"start","big"],"CD4 naive T":[-63.4,7.6,"start","big"],"Memory B":[5,2,"start","small"],
  "MC+":[5,1.5,"start","small"],"Eos":[-2.3,-3.7,"start","small"],"Naive B":[2.3,7,"start","small"],
  "CD4 memory T+":[5,2.5,"start","small"],"DC+":[6,2,"start","small"],"MC\u2212":[-4.3,-2.5,"start","small"],
  "PMN":[-23.4,-3.4,"start","big"],"PC":[5.7,5.7,"start","big"],"\u03b3\u03b4 T":[-9,12.3,"start","big"],
  "M1\u2212M\u03a6":[6,4,"start","small"],"Tfh":[3,1.5,"start","small"],"CD4 memory T\u2212":[5,8.3,"start","big"],
  "Mono":[6,2.5,"start","small"],"NK+":[-3.4,-4,"start","small"],"CD8 T":[-4,7,"start","small"],
  "M2\u2212M\u03a6":[-12.7,-6.7,"start","big"]};

quadPanel({box:[98.3,601.3,264.3,778],cells:gCells,xs:gThaiHCC,ys:gThaiICCA,thr:gThreshold,ellipses:gEllipses,
  layout:gLabelLayout,bigSize:10,
  leftAdv:thaiICCAAdvCor,leftFav:thaiICCAFavCor,leftRange:[611,770],leftMax:0.5,leftZero:84.3,leftMaxX:48.3,
  leftAxisY:779.5,leftTicks:[0,0.1,0.2,0.3,0.4,0.5],leftTitle:[63.3,803],leftName:[47.5,677.5],leftNameText:"Thai iCCA",
  sideX:91.7,sideAdvY:644,sideFavY:731.7,
  botFav:thaiHCCFavCor,botAdv:thaiHCCAdvCor,botRange:[101.8,256.5],botTop:790,bot03:37.3,botAxisX:265,
  botRotY:812,favX:143.3,advX:226.7,catY:789,botName:[190.5,838]});
quadPanel({box:[408.3,603,595,776.3],cells:hCells,xs:hThaiHCC,ys:hTCGA,thr:hThreshold,ellipses:hEllipses,
  layout:hLabelLayout,bigSize:10.6,
  leftAdv:tcgaAdvCor,leftFav:tcgaFavCor,leftRange:[606,770],leftMax:0.2,leftZero:394,leftMaxX:353,
  leftAxisY:780.5,leftTicks:[0,0.05,0.1,0.15,0.2],leftTitle:[372,803],leftName:[351.7,675],leftNameText:"TCGA HCC",
  sideX:400.8,sideAdvY:645.5,sideFavY:735,
  botFav:thaiHCCFavCor,botAdv:thaiHCCAdvCor,botRange:[415.5,570.3],botTop:787.7,bot03:38.3,botAxisX:576.7,
  botRotY:806.5,favX:461.7,advX:544,catY:786,botName:[505,835]});
</script>
</body>
</html>
